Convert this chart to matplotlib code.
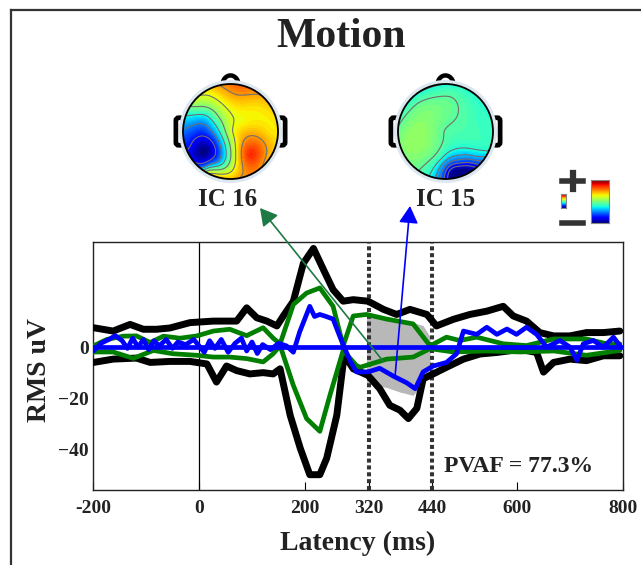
import numpy as np
import matplotlib
matplotlib.use("Agg")
import matplotlib.pyplot as plt
from matplotlib.patches import Circle, FancyBboxPatch
from matplotlib.lines import Line2D

plt.rcParams['font.family'] = ['Liberation Serif', 'DejaVu Serif']
plt.rcParams['font.weight'] = 'bold'
TXT = '#222222'

# ---- envelope data (latency ms, RMS uV) ----
blk_hi_t = [-199, -162, -130, -105, -80, -55, -17, 27, 71, 90, 109, 128, 147, 159, 178, 197, 216,
            235, 253, 272, 291, 319, 348, 373, 398, 430, 448, 480, 511, 543, 574, 593, 618, 643,
            669, 700, 731, 763, 794]
blk_hi_v = [7.6, 6.3, 8.9, 7, 7, 7.5, 9.6, 10.2, 10.2, 15.4, 11.5, 10.2, 8.3, 12.2, 18, 32.9, 38.7,
            30.3, 22.5, 18, 18.6, 18, 14.8, 12.8, 14.8, 12.8, 8.3, 10.9, 12.8, 14.1, 16, 12.2, 10.2, 5.7,
            4.4, 4.4, 5.7, 5.7, 6.3]

blk_lo_t = [-199, -162, -118, -92, -55, -17, 15, 33, 52, 71, 96, 121, 140, 153, 172, 191, 209, 228,
            241, 260, 274, 291, 319, 341, 360, 379, 395, 411, 423, 442, 467, 499, 530, 562, 606, 637,
            650, 669, 700, 731, 763, 794]
blk_lo_v = [-6, -4.7, -4.3, -6, -5.6, -5.6, -6.6, -13.7, -7.4, -9.2, -10.5, -10, -10.5, -8.5, -26.7,
            -39.6, -50, -50, -43.5, -26.7, -3, -8.5, -11.1, -16.3, -22.8, -24.7, -28, -24, -12.4, -10.5,
            -7.9, -4.7, -2.7, -2.1, -0.9, -2.1, -9.8, -6, -4.7, -5.3, -3.4, -3.4]

grn_hi_t = [-199, -174, -143, -118, -92, -67, -36, -4, 27, 58, 90, 121, 140, 153, 178, 203, 228, 253,
            272, 291, 316, 354, 404, 436, 467, 492, 524, 574, 618, 669, 700, 731, 769, 794]
grn_hi_v = [0.5, 3, 4.3, 4.4, 1.8, 4.3, 3.5, 4.4, 6.3, 7, 4.5, 7.6, 3.5, 1.3, 16.7, 21.2, 23.2, 16,
            0.5, 12.2, 12.8, 11, 9.1, 0.5, 3.9, 2.6, 3.9, 1.3, 0.6, 3.2, 3.2, 3.2, 1.3, 1.3]

grn_lo_t = [-199, -162, -124, -86, -49, -4, 27, 58, 90, 121, 140, 153, 178, 203, 228, 247, 272, 297,
            304, 354, 404, 436, 480, 543, 606, 669, 731, 794]
grn_lo_v = [-1.9, -1.9, -4.4, -1.3, -2.6, -3.2, -3.9, -3.9, -4.5, -5.8, -2.6, 0.6, -15, -28, -33,
            -18.9, -1.3, -7.2, -7.9, -4.7, -3.9, -0.6, -1.9, -1.5, -1.9, -1.5, -3.2, -1.3]

blu_t = [-199, -185, -170, -158, -145, -135, -125, -115, -105, -95, -85, -75, -62, -50, -40, -25, -10,
         0, 10, 20, 30, 42, 55, 68, 80, 90, 100, 110, 120, 135, 150, 165, 178, 190, 209, 218, 228,
         240, 253, 266, 285, 297, 319, 341, 367, 392, 408, 423, 442, 467, 486, 499, 524, 543, 562,
         581, 599, 618, 637, 656, 681, 700, 713, 725, 744, 763, 782, 794]
blu_v = [-1.5, 1.5, 3, 4.5, 2.5, -0.5, 3.5, 0, 3, -1, 2.5, 0.5, 3, -0.5, 2, 1, 3, 0.5, -2, 2.5, -0.5,
         3, -2, 1.5, 3.5, -1.5, 2, -2.5, 1, -1, 1.5, 0.5, -2, 6, 16, 12, 12.8, 12, 11, 4, -5.4, -9.7,
         -9.7, -8.3, -11.4, -14, -16.3, -9.7, -7.4, -6, -2.6, 6.3, 5, 7.8, 5, 7.1, 5, 7.8, 5, 0, 2.6,
         0, -5.2, 1.3, 2.6, 0, 3.9, 0.6]

# shaded window (320-440 ms)
gray_t = [316, 354, 379, 404, 423, 436]
gray_hi = [12.8, 11.5, 10.5, 9.7, 8.4, 4]
gray_lo = [-14.4, -15.8, -17.6, -18.9, -14.2, -8.5]

win_lims = [320, 440]
xticks = [-200, 0, 200, 320, 440, 600, 800]
xtick_labels = ['-200', '0', '200', '320', '440', '600', '800']
yticks = [0, -20, -40]

# component labels, arrow anchors (ms, uV) and colours
comp_names = ['IC 16', 'IC 15']
comp_colors = ['#007f00', '#0000ff']
arrow_colors = ['#1e7a45', '#0000ff']
arrow_from = [(347, -5.4), (370, -11.2)]
pvaf = 77.3

# scalp map samples (head coords, unit radius) and weights
ic16_x = [-0.54, -0.78, -0.3, -0.75, -0.47, 0.13, 0.58, 0.87, 0.41, 0.02, -0.47, 0.02, 0.02, 0.8,
          -0.85, -0.3, -0.55, -0.25, -0.9, 0.25, -0.55]
ic16_y = [-0.39, 0.0, 0.28, 0.63, 0.77, 0.81, 0.63, 0.0, -0.49, -0.92, -0.85, 0.0, 0.42, -0.7,
          -0.3, -0.2, 0.25, -0.65, 0.3, 0.2, -0.75]
ic16_v = [-1.0, -0.62, -0.1, 0.12, 0.24, 0.5, 0.38, 0.32, 0.72, 0.32, 0.1, 0.2, 0.25, 0.38,
          -0.75, -0.6, -0.4, -0.45, -0.3, 0.28, -0.5]

ic15_x = [-0.82, -0.54, 0.16, 0.58, 0.9, 0.0, -0.54, 0.16, 0.44, 0.65, -0.12, 0.87, -0.33, 0.3,
          -0.1, 0.62, 0.8]
ic15_y = [-0.21, 0.56, 0.85, 0.49, 0.0, 0.0, -0.7, -0.85, -0.77, -0.56, -0.56, -0.35, -0.92, -0.62,
          -0.97, -0.75, -0.52]
ic15_v = [0.04, -0.06, -0.14, -0.16, -0.18, -0.1, -0.06, -1.0, -0.95, -0.45, -0.2, -0.2, -0.25, -0.6,
          -0.55, -0.85, -0.38]

fig = plt.figure(figsize=(6.41, 5.65), dpi=100)
W, H = 641.0, 565.0

def fx(px):
    return px / W

def fy(py):
    return 1 - py / H

# ---- main envelope axes ----
ax = fig.add_axes([fx(93), fy(490), 530 / W, 248.5 / H])
ax.fill_between(gray_t, gray_lo, gray_hi, color='#b8b8b8', lw=0, zorder=1)
ax.axvline(0, color='black', lw=0.9, zorder=2)
for xl in win_lims:
    ax.axvline(xl, color='#333333', lw=2.9, ls=(0, (1, 0.7)), zorder=2)
kw = dict(solid_joinstyle='round', solid_capstyle='round')
ax.plot(blk_hi_t, blk_hi_v, color='black', lw=5, zorder=3, **kw)
ax.plot(blk_lo_t, blk_lo_v, color='black', lw=5, zorder=3, **kw)
ax.plot(grn_hi_t, grn_hi_v, color=comp_colors[0], lw=3.4, zorder=4, **kw)
ax.plot(grn_lo_t, grn_lo_v, color=comp_colors[0], lw=3.4, zorder=4, **kw)
ax.plot(blu_t, blu_v, color=comp_colors[1], lw=3.4, zorder=5, **kw)
ax.plot([-200, 800], [0, 0], color=comp_colors[1], lw=3.4, zorder=5)

ax.set_xlim(-200, 800)
ax.set_ylim(-56, 41.4)
ax.set_xticks(xticks)
ax.set_xticklabels(xtick_labels)
ax.set_yticks(yticks)
ax.tick_params(axis='x', direction='in', length=6, pad=7, labelsize=14, labelcolor=TXT)
ax.tick_params(axis='y', length=0, pad=3, labelsize=14, labelcolor=TXT)
for lab in ax.get_xticklabels() + ax.get_yticklabels():
    lab.set_fontweight('bold')
for s in ax.spines.values():
    s.set_linewidth(1.0)
    s.set_color('#222222')

fig.text(fx(40), fy(370), 'RMS uV', rotation=90, ha='center', va='center', fontsize=20, color=TXT)
fig.text(fx(358), fy(543), 'Latency (ms)', ha='center', va='center', fontsize=20, color=TXT)
fig.text(fx(341), fy(37), 'Motion', ha='center', va='center', fontsize=30, color=TXT)
fig.text(fx(519), fy(467), 'PVAF = %.1f%%' % pvaf, ha='center', va='center', fontsize=17, color=TXT)

# ---- scalp maps ----
def green(r):
    r = np.asarray(r, dtype=float)
    return np.where(r > 0, r ** 2 * (np.log(np.maximum(r, 1e-12)) - 1), 0.0)

def scalp(cx, cy, ex, ey, ev):
    rad = 47.5
    half = 1.3 * rad
    a = fig.add_axes([fx(cx - half), fy(cy + half), 2 * half / W, 2 * half / H])
    a.set_xlim(-1.3, 1.3)
    a.set_ylim(-1.3, 1.3)
    a.set_aspect('equal')
    a.axis('off')
    ex, ey, ev = np.asarray(ex), np.asarray(ey), np.asarray(ev)
    d = np.hypot(ex[:, None] - ex[None, :], ey[:, None] - ey[None, :])
    w = np.linalg.solve(green(d), ev)
    g = np.linspace(-1.02, 1.02, 221)
    X, Y = np.meshgrid(g, g)
    Z = green(np.hypot(X[..., None] - ex, Y[..., None] - ey)) @ w
    lim = np.abs(ev).max()
    Z = np.clip(Z, -lim, lim)
    # ears and nose
    for sx in (-1, 1):
        ear = FancyBboxPatch((sx * 1.07 - 0.06, -0.27), 0.12, 0.54,
                             boxstyle='round,pad=0.02,rounding_size=0.06',
                             fc='white', ec='black', lw=3.4, zorder=1)
        a.add_patch(ear)
    th = np.linspace(0, np.pi, 40)
    a.plot(0.17 * np.cos(th), 0.98 + 0.2 * np.sin(th), color='black', lw=3.2, zorder=1)
    a.add_patch(Circle((0, 0), 1.04, fc='none', ec='#dde7f0', lw=3, zorder=2))
    clip = Circle((0, 0), 1.0, transform=a.transData)
    cf = a.contourf(X, Y, Z, levels=np.linspace(-lim, lim, 65), cmap='jet', zorder=3)
    cf.set_clip_path(clip)
    zin = Z[np.hypot(X, Y) <= 1]
    cl = a.contour(X, Y, Z, levels=np.linspace(zin.min(), zin.max(), 8)[1:-1],
                   colors='#707070', linewidths=0.8, linestyles='solid', zorder=4)
    cl.set_clip_path(clip)
    a.add_patch(Circle((0, 0), 1.0, fc='none', ec='black', lw=1.3, zorder=5))

scalp(230.5, 131.5, ic16_x, ic16_y, ic16_v)
scalp(445.5, 131.5, ic15_x, ic15_y, ic15_v)
fig.text(fx(228), fy(200), comp_names[0], ha='center', va='center', fontsize=18, color=TXT)
fig.text(fx(446), fy(200), comp_names[1], ha='center', va='center', fontsize=18, color=TXT)

# arrows from envelope to labels
tips = [(fx(260), fy(208)), (fx(410), fy(206))]
for src, tip, col in zip(arrow_from, tips, arrow_colors):
    ax.annotate('', xy=tip, xycoords='figure fraction', xytext=src, textcoords='data',
                arrowprops=dict(arrowstyle='-|>,head_length=0.8,head_width=0.45', color=col,
                                lw=1.2, mutation_scale=13, shrinkA=0, shrinkB=0),
                annotation_clip=False, zorder=10)

# colour scale icon
grad = np.linspace(0, 1, 64)[:, None]
for (x0, x1, y0, y1) in [(591, 609, 180, 223), (561, 566, 194, 208)]:
    c = fig.add_axes([fx(x0), fy(y1), (x1 - x0) / W, (y1 - y0) / H])
    c.imshow(grad, cmap='jet', aspect='auto', origin='lower')
    c.set_xticks([])
    c.set_yticks([])
    for s in c.spines.values():
        s.set_color('#888888')
        s.set_linewidth(0.8)
fig.add_artist(Line2D([fx(562), fx(583)], [fy(181), fy(181)], color='#333333', lw=4))
fig.add_artist(Line2D([fx(572.5), fx(572.5)], [fy(173), fy(189)], color='#333333', lw=4.5))
fig.add_artist(Line2D([fx(562), fx(583)], [fy(222.5), fy(222.5)], color='#333333', lw=4))

# outer frame (top and left edges)
fig.add_artist(Line2D([fx(11), 1], [fy(10), fy(10)], color='#333333', lw=1.6))
fig.add_artist(Line2D([fx(11), fx(11)], [fy(10), 0], color='#333333', lw=1.6))

fig.savefig('out.png', dpi=100)
